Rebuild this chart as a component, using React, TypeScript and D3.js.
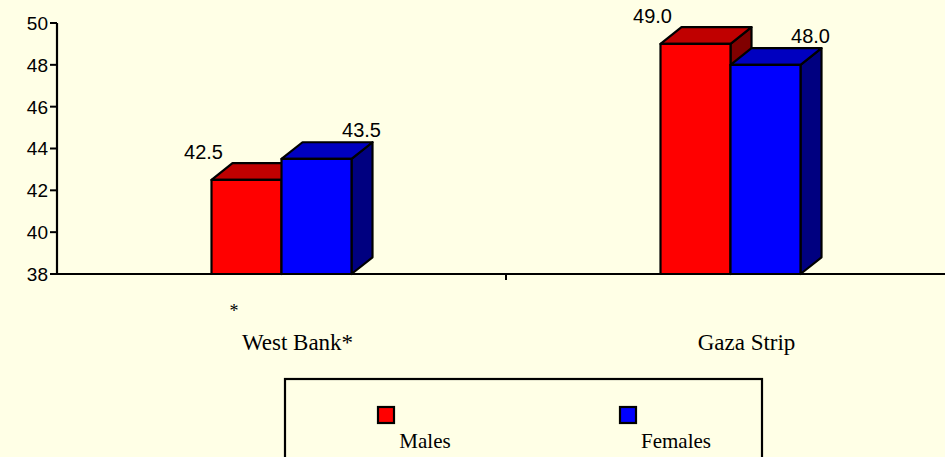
import React from "react";
import * as d3 from "d3";

const categories = ["West Bank*", "Gaza Strip"];
const seriesNames = ["Males", "Females"];
const males = [42.5, 49.0];
const females = [43.5, 48.0];
const yTicks = [38, 40, 42, 44, 46, 48, 50];

const W = 945;
const H = 457;
const BG = "#FFFFE6";
const front = ["#FF0000", "#0000FF"];
const top = ["#C00000", "#0000C0"];
const side = ["#800000", "#000080"];
const DX = 21;
const DY = 16.7;

export default function App() {
  const plotLeft = 57;
  const plotRight = 955;
  const y = d3.scaleLinear().domain([38, 50]).range([274, 23]);
  const x = d3.scaleBand<string>().domain(categories).range([plotLeft, plotRight]).padding(0);
  const barGroupW = 140;
  const inner = d3.scaleBand<string>().domain(seriesNames).range([0, barGroupW]).padding(0);
  const series = [males, females];
  const y0 = y(38);

  const bars: React.ReactNode[] = [];
  const labels: React.ReactNode[] = [];
  categories.forEach((cat, ci) => {
    const cx = (x(cat) as number) + x.bandwidth() / 2;
    seriesNames.forEach((s, si) => {
      const v = series[si][ci];
      const bx = cx - barGroupW / 2 + (inner(s) as number);
      const bw = inner.bandwidth();
      const ty = y(v);
      const sw = 2.2;
      bars.push(
        <g key={`b-${ci}-${si}`} stroke="#000" strokeWidth={sw} strokeLinejoin="round">
          <polygon
            points={`${bx + bw},${ty} ${bx + bw + DX},${ty - DY} ${bx + bw + DX},${y0 - DY} ${bx + bw},${y0}`}
            fill={side[si]}
          />
          <polygon
            points={`${bx},${ty} ${bx + DX},${ty - DY} ${bx + bw + DX},${ty - DY} ${bx + bw},${ty}`}
            fill={top[si]}
          />
          <rect x={bx} y={ty} width={bw} height={y0 - ty} fill={front[si]} />
        </g>
      );
      const lx = si === 0 ? bx - 8 : bx + 80;
      const ly = ty - (si === 0 ? 21 : 22);
      labels.push(
        <text
          key={`l-${ci}-${si}`}
          x={lx}
          y={ly}
          textAnchor="middle"
          fontFamily="'Liberation Sans', Arial, sans-serif"
          fontSize={20}
          fill="#000"
        >
          {v.toFixed(1)}
        </text>
      );
    });
  });

  return (
    <svg
      width={W}
      height={H}
      style={{ position: "absolute", left: 0, top: 0, display: "block" }}
    >
      <rect x={0} y={0} width={W} height={H} fill={BG} />
      {bars}
      <line x1={plotLeft} y1={y(50)} x2={plotLeft} y2={y0} stroke="#000" strokeWidth={2.2} />
      <line x1={plotLeft} y1={y0} x2={W} y2={y0} stroke="#000" strokeWidth={2.2} />
      {yTicks.map((t) => (
        <g key={t}>
          <line x1={plotLeft - 7} x2={plotLeft} y1={y(t)} y2={y(t)} stroke="#000" strokeWidth={2} />
          <text
            x={plotLeft - 9}
            y={y(t)}
            dy="0.36em"
            textAnchor="end"
            fontFamily="'Liberation Sans', Arial, sans-serif"
            fontSize={19}
            fill="#000"
          >
            {t}
          </text>
        </g>
      ))}
      {categories.slice(1).map((c) => (
        <line
          key={c}
          x1={x(c) as number}
          x2={x(c) as number}
          y1={y0}
          y2={y0 + 6}
          stroke="#000"
          strokeWidth={2}
        />
      ))}
      {labels}
      <text x={234} y={317} textAnchor="middle" fontFamily="'Liberation Serif', 'Times New Roman', serif" fontSize={18} fill="#000">
        *
      </text>
      {categories.map((c) => (
        <text
          key={c}
          x={(x(c) as number) + x.bandwidth() / 2 + 16}
          y={350}
          textAnchor="middle"
          fontFamily="'Liberation Serif', 'Times New Roman', serif"
          fontSize={23}
          fill="#000"
        >
          {c}
        </text>
      ))}
      <rect x={285} y={379} width={477} height={100} fill="none" stroke="#000" strokeWidth={2.2} />
      {seriesNames.map((s, i) => {
        const sx = i === 0 ? 378 : 620;
        const tx = i === 0 ? 425 : 676;
        return (
          <g key={s}>
            <rect x={sx} y={407} width={16} height={16} fill={front[i]} stroke="#000" strokeWidth={2.2} />
            <text
              x={tx}
              y={448}
              textAnchor="middle"
              fontFamily="'Liberation Serif', 'Times New Roman', serif"
              fontSize={21}
              fill="#000"
            >
              {s}
            </text>
          </g>
        );
      })}
    </svg>
  );
}
